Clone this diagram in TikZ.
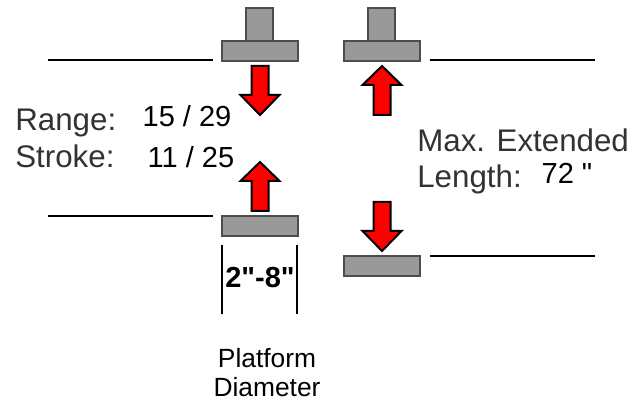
\documentclass[tikz,border=0pt]{standalone}
\usepackage{fontspec}
\setmainfont{Liberation Sans}
% no TeX ligatures here, so that " stays a straight mark
\newfontfamily\quotefont{Liberation Sans}
\definecolor{platgray}{RGB}{153,153,153}
\definecolor{edgegray}{RGB}{77,77,77}
\definecolor{blurtext}{RGB}{50,50,50}
\tikzset{
  plate/.style={draw=edgegray, fill=platgray, line width=0.05cm},
  arrowred/.style={draw=black, fill=red, line width=0.04cm, line join=miter},
  floor/.style={draw=black, line width=0.04cm},
  bigtext/.style={inner sep=0, anchor=west, text=blurtext, font=\fontsize{17.8}{20}\selectfont},
  smalltext/.style={inner sep=0, text=black, font=\quotefont\fontsize{16.5}{20}\selectfont},
  captext/.style={inner sep=0, text=black, font=\fontsize{15}{18}\selectfont}
}
\begin{document}
\begin{tikzpicture}
      \useasboundingbox (0,0) rectangle (12.7,8);

      % stems and platforms
      \foreach \x in {4.92,7.36} {
        \draw[plate] (\x, 7.18) rectangle ++(0.54, 0.66);
      }
      \foreach \x/\y in {4.44/6.78, 6.88/6.78, 4.44/3.28, 6.88/2.48} {
        \draw[plate] (\x, \y) rectangle ++(1.52, 0.4);
      }

      % floor lines
      \foreach \x/\y in {0.96/6.8, 8.6/6.8, 0.96/3.68, 8.6/2.88} {
        \draw[floor] (\x, \y) -- ++(3.3, 0);
      }

      % arrows pointing down
      \foreach \x/\y in {5.2/6.68, 7.64/3.96} {
        \draw[arrowred] (\x-0.17, \y) -- ++(0.34, 0) -- ++(0, -0.58) -- ++(0.22, 0)
          -- (\x, \y-0.98) -- (\x-0.39, \y-0.58) -- ++(0.22, 0) -- cycle;
      }
      % arrows pointing up
      \foreach \x/\y in {7.64/5.7, 5.2/3.78} {
        \draw[arrowred] (\x-0.17, \y) -- ++(0.34, 0) -- ++(0, 0.6) -- ++(0.22, 0)
          -- (\x, \y+0.98) -- (\x-0.39, \y+0.6) -- ++(0.22, 0) -- cycle;
      }

      % diameter marks
      \draw[floor] (4.44, 3.1) -- ++(0, -1.38);
      \draw[floor] (5.94, 3.1) -- ++(0, -1.38);

      \node[bigtext] (range) at (0.3, 5.54) {Range:};
      \node[smalltext] (rangeval) at (3.74, 5.68) {15 / 29};
      \node[bigtext] (stroke) at (0.3, 4.88) {Stroke:};
      \node[smalltext] (strokeval) at (3.82, 4.86) {11 / 25};
      \node[bigtext] (maxext) at (8.34, 5.2) {Max. Extended};
      \node[bigtext] (length) at (8.34, 4.42) {Length:};
      \node[smalltext] (lengthval) at (11.34, 4.54) {72 "};
      \node[smalltext] (diam) at (5.2, 2.44) {\bfseries 2"-8"};
      \node[captext] (plat) at (5.34, 0.84) {Platform};
      \node[captext] (diamlabel) at (5.34, 0.26) {Diameter};
\end{tikzpicture}
\end{document}
